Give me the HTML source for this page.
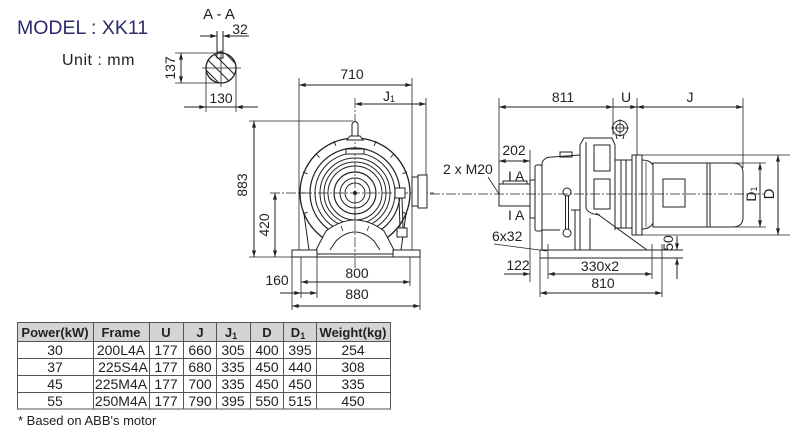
<!DOCTYPE html>
<html><head><meta charset="utf-8"><style>
html,body{margin:0;padding:0;background:#fff;}
svg{display:block;}
text{font-family:"Liberation Sans",Arial,sans-serif;fill:#222;}
</style></head><body>
<svg width="800" height="432" viewBox="0 0 800 432" xmlns="http://www.w3.org/2000/svg">
<defs>
<marker id="a" viewBox="0 0 10 6" refX="10" refY="3" markerWidth="7" markerHeight="4" markerUnits="userSpaceOnUse" orient="auto-start-reverse"><path d="M0,0L10,3L0,6z" fill="#222"/></marker>
<clipPath id="cc"><circle cx="221" cy="68" r="15"/></clipPath>
</defs>

<!-- Title -->
<text x="17" y="34" font-size="19.5" style="fill:#2b2b6b">MODEL : XK11</text>
<text x="62" y="65" font-size="16" letter-spacing="0.5">Unit : mm</text>

<!-- Section A-A -->
<g stroke="#222" fill="none" stroke-width="1">
<text x="219" y="19" font-size="15" text-anchor="middle" stroke="none">A - A</text>
<text x="240" y="34" font-size="14" text-anchor="middle" stroke="none">32</text>
<line x1="200" y1="36" x2="217" y2="36" marker-end="url(#a)"/>
<line x1="249" y1="36" x2="223" y2="36" marker-end="url(#a)"/>
<line x1="217" y1="31" x2="217" y2="58"/>
<line x1="223" y1="31" x2="223" y2="58"/>
<rect x="217" y="52" width="6" height="6"/>
<circle cx="221" cy="68" r="15" stroke-width="1.3"/>
<g clip-path="url(#cc)" stroke-width="1">
<line x1="196" y1="48" x2="236" y2="88"/>
<line x1="202" y1="42" x2="242" y2="82"/>
<line x1="190" y1="54" x2="230" y2="94"/>
<line x1="208" y1="36" x2="248" y2="76"/>
<line x1="184" y1="60" x2="224" y2="100"/>
</g>
<line x1="202" y1="68" x2="241" y2="68" stroke-width="0.8"/>
<line x1="221" y1="50" x2="221" y2="87" stroke-width="0.8"/>
<line x1="175" y1="53" x2="217" y2="53" stroke-width="0.8"/>
<line x1="175" y1="83" x2="221" y2="83" stroke-width="0.8"/>
<line x1="181" y1="53" x2="181" y2="83" marker-start="url(#a)" marker-end="url(#a)"/>
<text transform="translate(175,68) rotate(-90)" font-size="14" text-anchor="middle" stroke="none">137</text>
<line x1="206" y1="68" x2="206" y2="112" stroke-width="0.8"/>
<line x1="236" y1="68" x2="236" y2="112" stroke-width="0.8"/>
<line x1="184" y1="107" x2="206" y2="107" marker-end="url(#a)"/>
<line x1="258" y1="107" x2="236" y2="107" marker-end="url(#a)"/>
<line x1="206" y1="107" x2="236" y2="107"/>
<text x="221" y="103" font-size="14" text-anchor="middle" stroke="none">130</text>
</g>

<!-- Front view -->
<g stroke="#222" fill="none" stroke-width="1">
<text x="352" y="79" font-size="14" text-anchor="middle" stroke="none">710</text>
<line x1="299" y1="85" x2="412" y2="85" marker-start="url(#a)" marker-end="url(#a)"/>
<line x1="299" y1="78" x2="299" y2="252" stroke-width="0.8"/>
<line x1="412" y1="78" x2="412" y2="252" stroke-width="0.8"/>
<text x="383" y="101" font-size="14" stroke="none">J<tspan font-size="9" dy="1">1</tspan></text>
<line x1="355" y1="104" x2="426" y2="104" marker-start="url(#a)" marker-end="url(#a)"/>
<line x1="426" y1="98" x2="426" y2="193" stroke-width="0.8"/>
<line x1="355" y1="98" x2="355" y2="268" stroke-width="0.7" stroke-dasharray="10 2 2 2"/>
<line x1="249" y1="121" x2="353" y2="121" stroke-width="0.8"/>
<line x1="249" y1="257" x2="292" y2="257" stroke-width="0.8"/>
<line x1="254" y1="121" x2="254" y2="257" marker-start="url(#a)" marker-end="url(#a)"/>
<text transform="translate(247,185) rotate(-90)" font-size="14" text-anchor="middle" stroke="none">883</text>
<line x1="270" y1="193" x2="434" y2="193" stroke-width="0.7" stroke-dasharray="10 2 2 2"/>
<line x1="275" y1="193" x2="275" y2="257" marker-start="url(#a)" marker-end="url(#a)"/>
<text transform="translate(269,225) rotate(-90)" font-size="14" text-anchor="middle" stroke="none">420</text>

<text x="357" y="278" font-size="14" text-anchor="middle" stroke="none">800</text>
<line x1="301" y1="282" x2="410" y2="282" marker-start="url(#a)" marker-end="url(#a)"/>
<line x1="301" y1="250" x2="301" y2="298" stroke-width="0.8"/>
<line x1="410" y1="250" x2="410" y2="286" stroke-width="0.8"/>
<line x1="317" y1="250" x2="317" y2="298" stroke-width="0.8"/>
<text x="277" y="285" font-size="14" text-anchor="middle" stroke="none">160</text>
<line x1="280" y1="293" x2="301" y2="293" marker-end="url(#a)"/>
<line x1="301" y1="293" x2="317" y2="293" marker-end="url(#a)"/>
<text x="357" y="299" font-size="14" text-anchor="middle" stroke="none">880</text>
<line x1="292" y1="306" x2="420" y2="306" marker-start="url(#a)" marker-end="url(#a)"/>
<line x1="292" y1="250" x2="292" y2="310" stroke-width="0.8"/>
<line x1="420" y1="250" x2="420" y2="310" stroke-width="0.8"/>

<circle cx="355" cy="193" r="55" stroke-width="1.3"/>
<g stroke-width="0.9">
<line x1="300" y1="193" x2="305" y2="193"/>
<line x1="302.9" y1="171.9" x2="307.6" y2="173.9"/>
<line x1="316.1" y1="154.1" x2="319.6" y2="157.6"/>
<line x1="333.9" y1="141.1" x2="335.9" y2="145.8"/>
<line x1="376.1" y1="141.1" x2="374.1" y2="145.8"/>
<line x1="393.9" y1="154.1" x2="390.4" y2="157.6"/>
<line x1="407.1" y1="171.9" x2="402.4" y2="173.9"/>
<line x1="302.9" y1="214.1" x2="307.6" y2="212.1"/>
<line x1="407.1" y1="214.1" x2="402.4" y2="212.1"/>
</g>
<circle cx="355" cy="193" r="45" stroke-width="1.2"/>
<circle cx="355" cy="193" r="40"/>
<circle cx="355" cy="193" r="35"/>
<circle cx="355" cy="193" r="31"/>
<circle cx="355" cy="193" r="27"/>
<circle cx="355" cy="193" r="21" stroke-width="1.2"/>
<circle cx="355" cy="193" r="15"/>
<circle cx="355" cy="193" r="10"/>
<circle cx="355" cy="193" r="1.5" fill="#222"/>
<rect x="346" y="149" width="18" height="5" fill="#fff"/>
<path d="M352,138 L352,124 Q355,119 358,124 L358,138" fill="#fff"/>
<path d="M347,140 L350,136 L360,136 L363,140 Z" fill="#fff"/>
<path d="M304,214 L309,250" />
<path d="M406,214 L401,250" />
<path d="M316,250 L326,231 Q355,209 384,231 L394,250" fill="#fff"/>
<path d="M330,250 L336,241 Q355,223 374,241 L380,250"/>
<line x1="341" y1="226" x2="343" y2="231" stroke-width="0.8"/>
<line x1="369" y1="226" x2="367" y2="231" stroke-width="0.8"/>
<line x1="355" y1="205" x2="355" y2="250" stroke-width="0.7" stroke-dasharray="10 2 2 2"/>
<rect x="292" y="250" width="25" height="7" fill="#fff"/>
<rect x="393" y="250" width="27" height="7" fill="#fff"/>
<line x1="317" y1="254" x2="393" y2="254"/>
<line x1="292" y1="257" x2="420" y2="257"/>
<rect x="412" y="177" width="6" height="29" fill="#fff"/>
<rect x="418" y="175" width="9" height="33" fill="#fff"/>
<rect x="395" y="188" width="10" height="10" fill="#fff"/>
<line x1="399" y1="198" x2="400" y2="228"/>
<line x1="402" y1="198" x2="403" y2="228"/>
<rect x="397" y="228" width="10" height="9" fill="#fff"/>
</g>

<!-- Right side view -->
<g stroke="#222" fill="none" stroke-width="1">
<text x="563" y="102" font-size="14" text-anchor="middle" stroke="none">811</text>
<text x="626" y="102" font-size="14" text-anchor="middle" stroke="none">U</text>
<text x="690" y="102" font-size="14" text-anchor="middle" stroke="none">J</text>
<line x1="499" y1="107" x2="613" y2="107" marker-start="url(#a)" marker-end="url(#a)"/>
<line x1="613" y1="107" x2="637" y2="107" marker-end="url(#a)"/>
<line x1="637" y1="107" x2="743" y2="107" marker-start="url(#a)" marker-end="url(#a)"/>
<line x1="499" y1="98" x2="499" y2="184" stroke-width="0.8"/>
<line x1="613" y1="98" x2="613" y2="135" stroke-width="0.8"/>
<line x1="637" y1="98" x2="637" y2="155" stroke-width="0.8"/>
<line x1="743" y1="98" x2="743" y2="168" stroke-width="0.8"/>
<text x="514" y="155" font-size="14" text-anchor="middle" stroke="none">202</text>
<line x1="499" y1="161" x2="530" y2="161" marker-start="url(#a)" marker-end="url(#a)"/>
<line x1="530" y1="150" x2="530" y2="282" stroke-width="0.8"/>
<text x="443" y="174" font-size="14" stroke="none">2 x M20</text>
<line x1="488" y1="177" x2="499" y2="194" stroke-width="0.8"/>
<text x="508" y="181" font-size="14" stroke="none">I A</text>
<text x="508" y="220" font-size="14" stroke="none">I A</text>
<line x1="430" y1="194" x2="765" y2="194" stroke-width="0.7" stroke-dasharray="10 2 2 2"/>
<rect x="499" y="184" width="31" height="22" fill="none"/>
<rect x="503" y="181" width="24" height="3"/>
<rect x="530" y="180" width="5" height="38"/>
<rect x="535" y="165" width="7" height="66" rx="2"/>
<path d="M542,250 L542,163 Q544,157 552,157 L580,155"/>
<rect x="560" y="152" width="12" height="5"/>
<line x1="542" y1="230" x2="560" y2="230"/>
<circle cx="567" cy="192" r="4"/>
<circle cx="567" cy="233" r="4"/>
<line x1="565.5" y1="196" x2="565.5" y2="229"/>
<line x1="568.5" y1="196" x2="568.5" y2="229"/>
<path d="M571,210 L580,210 M575,210 L575,250 M580,210 L580,250"/>
<path d="M580,250 L580,145 L584,138 L612,138 L615,145 L615,230"/>
<path d="M586,142 L586,208 Q588,214 600,215"/>
<rect x="594" y="145" width="16" height="26"/>
<rect x="594" y="179" width="16" height="30"/>
<line x1="596" y1="213" x2="647" y2="250"/>
<line x1="590" y1="218" x2="590" y2="250"/>
<circle cx="620" cy="128" r="7.5"/>
<circle cx="620" cy="128" r="4"/>
<line x1="611" y1="128" x2="629" y2="128" stroke-width="0.7"/>
<line x1="620" y1="119" x2="620" y2="137" stroke-width="0.7"/>
<path d="M616,135 L617,139 M624,135 L623,139"/>
<path d="M615,160 L632,160 M615,228 L632,228"/>
<line x1="621" y1="160" x2="621" y2="228"/>
<line x1="626" y1="160" x2="626" y2="228"/>
<rect x="632" y="155" width="10" height="80"/>
<line x1="636" y1="155" x2="636" y2="235"/>
<path d="M642,160 Q650,160 653,165 L653,223 Q650,229 642,229"/>
<line x1="646" y1="162" x2="646" y2="227" stroke-width="0.7"/>
<rect x="653" y="163" width="57" height="64"/>
<line x1="707" y1="163" x2="707" y2="227"/>
<path d="M710,163 L733,163 Q743,163 743,173 L743,217 Q743,227 733,227 L710,227"/>
<rect x="663" y="179" width="22" height="28"/>
<line x1="642" y1="155" x2="790" y2="155" stroke-width="0.8"/>
<line x1="642" y1="235" x2="790" y2="235" stroke-width="0.8"/>
<line x1="735" y1="163" x2="766" y2="163" stroke-width="0.8"/>
<line x1="735" y1="227" x2="766" y2="227" stroke-width="0.8"/>
<line x1="760" y1="163" x2="760" y2="227" marker-start="url(#a)" marker-end="url(#a)"/>
<line x1="778" y1="155" x2="778" y2="235" marker-start="url(#a)" marker-end="url(#a)"/>
<text transform="translate(756,194) rotate(-90)" font-size="14" text-anchor="middle" stroke="none">D<tspan font-size="9" dy="1">1</tspan></text>
<text transform="translate(774,194) rotate(-90)" font-size="15" text-anchor="middle" stroke="none">D</text>
<line x1="540" y1="250" x2="683" y2="250"/>
<line x1="540" y1="258" x2="683" y2="258"/>
<line x1="540" y1="250" x2="540" y2="297" stroke-width="0.8"/>
<line x1="548" y1="244" x2="548" y2="279" stroke-width="0.8"/>
<line x1="652" y1="244" x2="652" y2="279" stroke-width="0.8"/>
<line x1="662" y1="244" x2="662" y2="297" stroke-width="0.8"/>
<text x="492" y="241" font-size="14" stroke="none">6x32</text>
<line x1="494" y1="244" x2="547" y2="251" stroke-width="0.8"/>
<line x1="677" y1="236" x2="677" y2="250" marker-end="url(#a)"/>
<line x1="677" y1="279" x2="677" y2="258" marker-end="url(#a)"/>
<text transform="translate(673,243) rotate(-90)" font-size="14" text-anchor="middle" stroke="none">50</text>
<text x="518" y="270" font-size="14" text-anchor="middle" stroke="none">122</text>
<line x1="504" y1="274" x2="530" y2="274" marker-end="url(#a)"/>
<line x1="548" y1="274" x2="652" y2="274" marker-start="url(#a)" marker-end="url(#a)"/>
<text x="600" y="271" font-size="14" text-anchor="middle" stroke="none">330x2</text>
<text x="603" y="288" font-size="14" text-anchor="middle" stroke="none">810</text>
<line x1="540" y1="293" x2="662" y2="293" marker-start="url(#a)" marker-end="url(#a)"/>
</g>

<!-- Table -->
<g stroke="#555" stroke-width="1">
<rect x="17.5" y="322.5" width="373" height="19" fill="#d4d4d4"/>
<rect x="17.5" y="341.5" width="373" height="67.5" fill="#fff"/>
<line x1="17.5" y1="358.5" x2="390.5" y2="358.5"/>
<line x1="17.5" y1="375.5" x2="390.5" y2="375.5"/>
<line x1="17.5" y1="392.5" x2="390.5" y2="392.5"/>
<line x1="93.5" y1="322.5" x2="93.5" y2="409"/>
<line x1="149.5" y1="322.5" x2="149.5" y2="409"/>
<line x1="183.5" y1="322.5" x2="183.5" y2="409"/>
<line x1="216.5" y1="322.5" x2="216.5" y2="409"/>
<line x1="250.5" y1="322.5" x2="250.5" y2="409"/>
<line x1="283.5" y1="322.5" x2="283.5" y2="409"/>
<line x1="316.5" y1="322.5" x2="316.5" y2="409"/>
</g>
<g font-size="13" font-weight="bold" text-anchor="middle">
<text x="55" y="337">Power(kW)</text>
<text x="121" y="337">Frame</text>
<text x="166" y="337">U</text>
<text x="200" y="337">J</text>
<text x="231" y="337">J<tspan font-size="9" dy="2">1</tspan></text>
<text x="267" y="337">D</text>
<text x="298" y="337">D<tspan font-size="9" dy="2">1</tspan></text>
<text x="353" y="337">Weight(kg)</text>
</g>
<g font-size="14" text-anchor="middle">
<text x="55" y="355">30</text><text x="121" y="355">200L4A</text><text x="166" y="355">177</text><text x="200" y="355">660</text><text x="233" y="355">305</text><text x="267" y="355">400</text><text x="300" y="355">395</text><text x="353" y="355">254</text>
<text x="55" y="372">37</text><text x="123" y="372">225S4A</text><text x="166" y="372">177</text><text x="200" y="372">680</text><text x="233" y="372">335</text><text x="267" y="372">450</text><text x="300" y="372">440</text><text x="353" y="372">308</text>
<text x="55" y="389">45</text><text x="121" y="389">225M4A</text><text x="166" y="389">177</text><text x="200" y="389">700</text><text x="233" y="389">335</text><text x="267" y="389">450</text><text x="300" y="389">450</text><text x="353" y="389">335</text>
<text x="55" y="406">55</text><text x="121" y="406">250M4A</text><text x="166" y="406">177</text><text x="200" y="406">790</text><text x="233" y="406">395</text><text x="267" y="406">550</text><text x="300" y="406">515</text><text x="353" y="406">450</text>
</g>
<text x="18" y="425" font-size="13">* Based on ABB's motor</text>
</svg>
</body></html>
